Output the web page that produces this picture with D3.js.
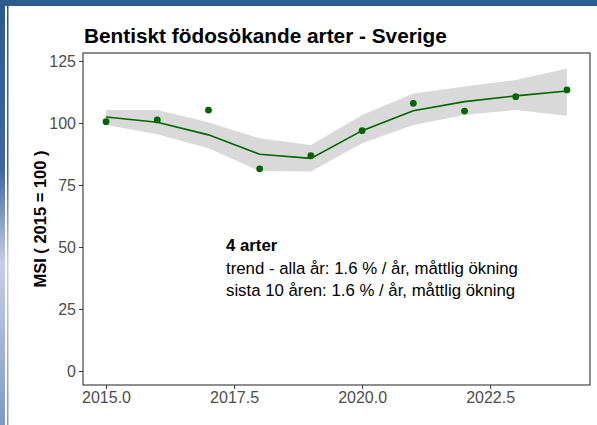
<!DOCTYPE html>
<html>
<head>
<meta charset="utf-8">
<script src="https://cdn.jsdelivr.net/npm/d3@7"></script>
<style>
  body { margin: 0; background: #fff; }
  svg { display: block; font-family: "Liberation Sans", Arial, sans-serif; }
</style>
</head>
<body>
<svg id="chart"></svg>
<script>
// data
var years = [2015, 2016, 2017, 2018, 2019, 2020, 2021, 2022, 2023, 2024];
var msi   = [100.5, 101.2, 105.2, 81.5, 86.8, 96.9, 107.9, 104.8, 110.6, 113.3];
var trend = [102.4, 100.3, 95.2, 87.4, 85.7, 96.9, 104.9, 108.6, 110.9, 112.9];
var upper = [105.2, 105.2, 100.3, 93.8, 91.1, 103.2, 111.9, 114.7, 117.3, 122.0];
var lower = [99.2, 95.4, 89.8, 80.6, 80.4, 91.8, 99.2, 103.2, 105.2, 102.9];
var xTicks = [2015, 2017.5, 2020, 2022.5];
var yTicks = [0, 25, 50, 75, 100, 125];
var title = "Bentiskt födosökande arter - Sverige";
var yTitle = "MSI ( 2015 = 100 )";
var note = ["4 arter", "trend - alla år: 1.6 % / år, måttlig ökning", "sista 10 åren: 1.6 % / år, måttlig ökning"];

var width = 597, height = 425;
// panel edges (window.top is reserved, so no plain "top")
var pL = 83, pR = 590, pT = 53, pB = 385;

var svg = d3.select("#chart").attr("width", width).attr("height", height);

// slide frame (blue bands)
var grad = svg.append("defs").append("linearGradient")
    .attr("id", "side").attr("x1", 0).attr("y1", 0).attr("x2", 0).attr("y2", 1);
grad.append("stop").attr("offset", 0).attr("stop-color", "#2c5a8c");
grad.append("stop").attr("offset", 0.4).attr("stop-color", "#3f679c");
grad.append("stop").attr("offset", 0.62).attr("stop-color", "#c9cdea");
grad.append("stop").attr("offset", 1).attr("stop-color", "#8097c6");
svg.append("rect").attr("x", 0).attr("y", 0).attr("width", 5).attr("height", height).attr("fill", "url(#side)");
svg.append("rect").attr("x", 7).attr("y", 0).attr("width", 1.5).attr("height", height).attr("fill", "url(#side)");
svg.append("rect").attr("x", 0).attr("y", 0).attr("width", width).attr("height", 6).attr("fill", "#2d5b8e");

var x = d3.scaleLinear().domain([2014.55, 2024.45]).range([pL, pR]);
var y = d3.scaleLinear().domain([-5.65, 128.2]).range([pB, pT]);

var rows = years.map(function(yr, i) {
    return {year: yr, msi: msi[i], trend: trend[i], upper: upper[i], lower: lower[i]};
});

// confidence band
var area = d3.area()
    .x(function(d) { return x(d.year); })
    .y0(function(d) { return y(d.lower); })
    .y1(function(d) { return y(d.upper); });
svg.append("path").datum(rows).attr("d", area).attr("fill", "#d9d9d9");

// trend line
var line = d3.line()
    .x(function(d) { return x(d.year); })
    .y(function(d) { return y(d.trend); });
svg.append("path").datum(rows).attr("d", line)
    .attr("fill", "none").attr("stroke", "#006400").attr("stroke-width", 1.6);

// yearly points
svg.selectAll(".pt").data(rows).enter().append("circle")
    .attr("class", "pt")
    .attr("cx", function(d) { return x(d.year); })
    .attr("cy", function(d) { return y(d.msi); })
    .attr("r", 3.4)
    .attr("fill", "#006400");

// panel border
svg.append("rect").attr("x", pL).attr("y", pT)
    .attr("width", pR - pL).attr("height", pB - pT)
    .attr("fill", "none").attr("stroke", "#333").attr("stroke-width", 1.1);

// axes
var xAxis = svg.append("g").attr("transform", "translate(0," + pB + ")")
    .call(d3.axisBottom(x).tickValues(xTicks).tickFormat(d3.format(".1f")).tickSize(4).tickPadding(3));
var yAxis = svg.append("g").attr("transform", "translate(" + pL + ",0)")
    .call(d3.axisLeft(y).tickValues(yTicks).tickSize(4).tickPadding(3));
[xAxis, yAxis].forEach(function(g) {
    g.select(".domain").remove();
    g.selectAll("line").attr("stroke", "#333");
    g.selectAll("text").attr("fill", "#4d4d4d")
        .style("font-size", "16px").style("font-family", "Liberation Sans, Arial, sans-serif");
});

// titles
svg.append("text").attr("x", 84).attr("y", 43)
    .style("font-size", "20.8px").style("font-weight", "bold").attr("fill", "#000")
    .text(title);
svg.append("text")
    .attr("transform", "translate(46," + (pT + pB) / 2 + ") rotate(-90)")
    .attr("text-anchor", "middle")
    .style("font-size", "16.5px").style("font-weight", "bold").attr("fill", "#000")
    .text(yTitle);

// annotation
svg.selectAll(".note").data(note).enter().append("text")
    .attr("class", "note")
    .attr("x", 226)
    .attr("y", function(d, i) { return 251 + i * 22.5; })
    .style("font-size", "16.8px")
    .style("font-weight", function(d, i) { return i == 0 ? "bold" : "normal"; })
    .attr("fill", "#000")
    .text(function(d) { return d; });
</script>
</body>
</html>
